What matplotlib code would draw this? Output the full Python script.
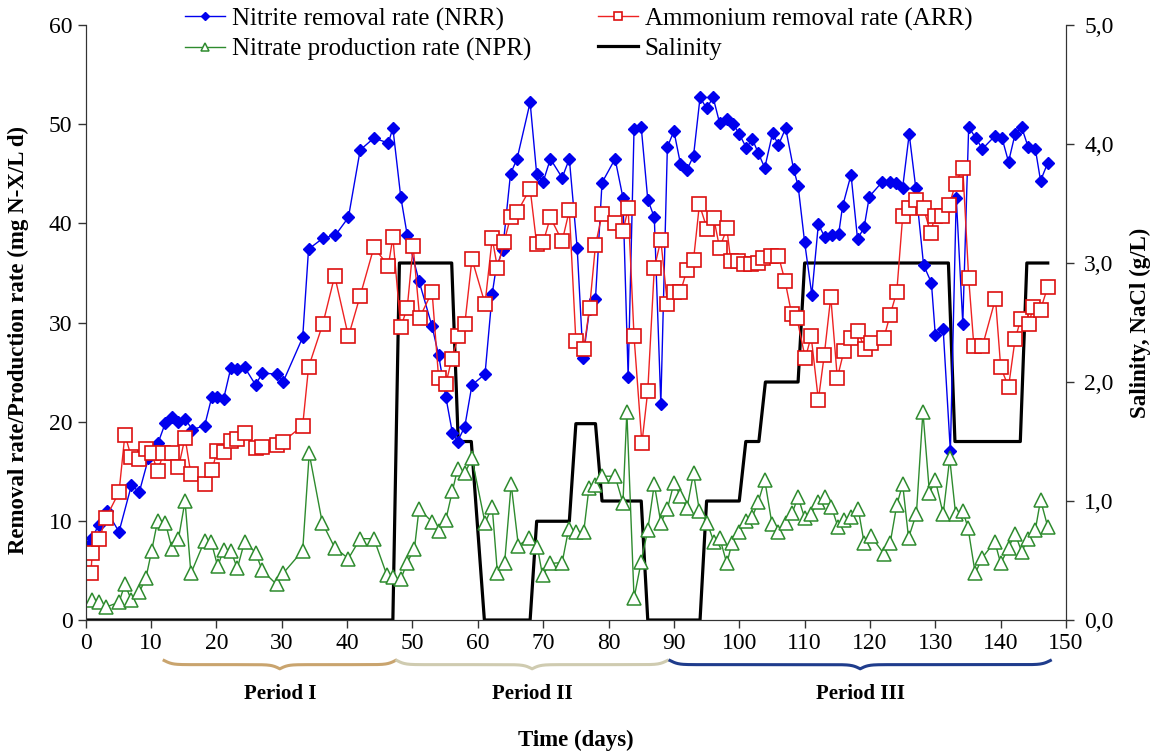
import numpy as np
import matplotlib
matplotlib.use('Agg')
import matplotlib.pyplot as plt
from matplotlib.ticker import FuncFormatter, MultipleLocator
from matplotlib.transforms import blended_transform_factory

plt.rcParams['font.family'] = ['Liberation Serif', 'DejaVu Serif']

# Nitrite removal rate (NRR)
nrr_day = [0.5, 1, 2, 3.2, 5.1, 7, 8.2, 9.6, 11.1, 12.2, 13.2, 14.2, 15.2, 16.3, 18.2, 19.3,
           20.1, 21.1, 22.2, 23.2, 24.3, 26, 27, 29.2, 30.2, 33.2, 34.1, 36.3, 38.2, 40.2,
           42, 44.1, 46.3, 47, 48.2, 49.2, 51, 53, 54, 55.1, 56.1, 56.9, 58, 59.1, 61.1,
           62.2, 62.8, 63.8, 65, 66, 68, 69, 70, 71.1, 72.9, 74, 75.2, 76.1, 77.1, 78, 79,
           81, 82.2, 83, 83.9, 85, 86, 87, 88, 89, 90, 91, 92, 93, 94, 95, 96, 97, 98.1,
           99.1, 100, 101.1, 102, 102.9, 103.9, 105.1, 106, 107.1, 108.3, 109, 110, 111.1,
           112.1, 113.1, 114.2, 115.2, 115.8, 117.1, 118.1, 119.1, 119.9, 121.9, 123, 124,
           125, 126, 127, 128.2, 129.4, 130, 131.2, 132.3, 133.2, 134.2, 135.1, 136.2,
           137.2, 139.1, 140.2, 141.2, 142.2, 143.2, 144.2, 145.3, 146.1, 147.2]
nrr_val = [7.6, 8.3, 9.6, 11.0, 8.9, 13.6, 12.9, 16.3, 17.9, 19.9, 20.5, 20.0, 20.3, 19.2, 19.6, 22.5,
           22.5, 22.3, 25.4, 25.3, 25.5, 23.7, 24.9, 24.8, 24.0, 28.5, 37.4, 38.5, 38.8, 40.6,
           47.4, 48.6, 48.1, 49.6, 42.7, 38.8, 34.2, 29.6, 26.7, 22.5, 18.9, 18.0, 19.5, 23.7, 24.8,
           32.9, 35.5, 37.3, 45.0, 46.5, 52.2, 45.0, 44.2, 46.5, 44.6, 46.5, 37.5, 26.4, 31.4, 32.4, 44.1,
           46.5, 42.6, 24.5, 49.5, 49.7, 42.4, 40.6, 21.8, 47.7, 49.3, 46.0, 45.4, 46.8, 52.7, 51.6, 52.7, 50.1, 50.5,
           50.0, 49.0, 47.6, 48.5, 47.1, 45.6, 49.1, 47.9, 49.6, 45.5, 43.8, 38.1, 32.8,
           39.9, 38.6, 38.8, 38.9, 41.7, 44.9, 38.4, 39.6, 42.7, 44.2, 44.2, 44.1,
           43.6, 49.0, 43.6, 35.8, 34.0, 28.7, 29.3, 17.0, 42.6, 29.9, 49.7, 48.6,
           47.5, 48.8, 48.6, 46.2, 49.0, 49.7, 47.7, 47.5, 44.3, 46.1]

# Ammonium removal rate (ARR)
arr_day = [0.8, 1, 2.1, 3.1, 5.1, 6, 7, 8.1, 9.2, 10.1, 11, 11.9, 13.2, 14.2, 15.2, 16.1, 18.2,
           19.3, 20.1, 21.1, 22.2, 23.2, 24.3, 26, 27, 29.2, 30.2, 33.2, 34.1, 36.3, 38.1, 40.2,
           42, 44.1, 46.3, 47, 48.2, 49.2, 50.1, 51.1, 53, 54, 55.1, 56, 57, 58, 59.1, 61.1,
           62.2, 63, 64, 65, 66, 68, 69, 70, 71.1, 72.9, 74, 75, 76.2, 77.1, 78, 79, 81, 82.2,
           83, 83.9, 85.1, 86, 87, 88, 89, 90, 91, 92, 93, 93.9, 95.1, 96.1, 97, 98.1, 98.7,
           99.8, 100.8, 101.8, 102.8, 103.7, 104.9, 106, 107, 108, 108.8, 110.1, 111, 112.1,
           113, 114, 115, 116, 117.1, 118.2, 119.2, 120.1, 122.1, 123.1, 124.1, 125, 126,
           127.1, 128.2, 129.3, 129.9, 131, 132.1, 133.1, 134.2, 135.1, 135.9, 137.2, 139.2,
           140, 141.2, 142.2, 143.1, 144.3, 145, 146.1, 147.2]
arr_val = [4.7, 6.8, 8.2, 10.3, 12.9, 18.7, 16.4, 16.2, 17.2, 16.8, 15.0, 16.8, 16.8, 15.4, 18.4, 14.7, 13.7,
           15.1, 17.0, 16.9, 18.1, 18.3, 18.9, 17.3, 17.4, 17.6, 18.0, 19.6, 25.5, 29.9, 34.7, 28.6,
           32.7, 37.6, 35.7, 38.6, 29.5, 31.5, 37.7, 30.5, 33.1, 24.4, 23.8, 26.3, 28.6, 29.8, 36.4, 31.9,
           38.5, 35.5, 38.1, 40.6, 41.1, 43.5, 37.9, 38.1, 40.6, 38.2, 41.3, 28.1, 27.3, 31.5, 37.8, 40.9, 40.0, 39.2,
           41.5, 28.6, 17.8, 23.1, 35.5, 38.3, 31.9, 33.1, 33.1, 35.3, 36.3, 41.9, 39.4, 40.5, 37.5, 39.5, 36.2,
           36.2, 35.9, 35.9, 36.0, 36.5, 36.7, 36.7, 34.2, 30.9, 30.5, 26.4, 28.6, 22.2,
           26.7, 32.6, 24.4, 27.1, 28.4, 29.1, 27.3, 27.9, 28.4, 30.8, 33.1, 40.7, 41.5,
           42.4, 41.5, 39.0, 40.7, 40.7, 41.8, 44.0, 45.6, 34.5, 27.6, 27.6, 32.4,
           25.5, 23.5, 28.3, 30.4, 29.9, 31.6, 31.3, 33.6]

# Nitrate production rate (NPR)
npr_day = [0.9, 2.1, 3.1, 5.1, 6, 7, 8.2, 9.2, 10.1, 11, 12.2, 13.2, 14.2, 15.2, 16.1, 18.2, 19.2,
           20.2, 21.1, 22.2, 23.2, 24.3, 26, 27, 29.2, 30.2, 33.2, 34.2, 36.2, 38.1, 40.2, 42,
           44.1, 46.1, 47, 48.2, 49.2, 50.3, 51, 53, 54, 55.1, 56.1, 56.9, 58, 59.1, 61.1, 62.2,
           63, 64.1, 65.1, 66.2, 67.9, 69.1, 69.9, 71.1, 72.9, 73.9, 75, 76.2, 77, 78, 79, 81,
           82.2, 82.8, 83.9, 85, 86, 87, 88, 89, 90, 91, 92, 93, 93.9, 95.1, 96.1, 97, 98.1,
           98.9, 100, 101, 102, 102.9, 103.9, 105, 106, 107.1, 108.1, 109, 110, 111, 112,
           113.1, 114.1, 115.1, 116.1, 117.1, 118.2, 119.1, 120.1, 122.1, 123.1, 124.1, 125,
           125.9, 127.1, 128.1, 129.1, 130, 131.2, 132.2, 133.1, 134.2, 135, 136.1, 137.2,
           139.1, 140, 141.2, 142.2, 143.2, 144.2, 145.3, 146.1, 147.2]
npr_val = [2.0, 1.8, 1.3, 1.8, 3.6, 2.0, 2.8, 4.2, 7.0, 10.0, 9.8, 7.2, 8.2, 12.0, 4.7, 8.0, 7.9,
           5.4, 7.1, 7.0, 5.2, 7.9, 6.8, 5.0, 3.6, 4.7, 7.0, 16.8, 9.8, 7.3, 6.2, 8.2,
           8.2, 4.5, 4.3, 4.1, 5.8, 7.2, 11.2, 9.9, 9.0, 10.1, 13.0, 15.2, 14.8, 16.3, 9.8, 11.4,
           4.7, 5.8, 13.7, 7.5, 8.3, 7.4, 4.5, 5.7, 5.8, 9.2, 8.9, 8.9, 13.3, 13.6, 14.5, 14.5,
           11.8, 21.0, 2.2, 5.9, 9.1, 13.7, 9.8, 11.2, 13.8, 12.5, 11.3, 14.8, 11.0, 9.8, 7.9, 8.3, 5.7,
           7.8, 8.9, 10.0, 10.4, 11.9, 14.1, 9.7, 8.9, 9.8, 10.8, 12.4, 10.3, 10.7, 11.9,
           12.4, 11.4, 9.4, 10.1, 10.4, 11.2, 7.8, 8.5, 6.7, 7.8, 11.6, 13.7,
           8.3, 10.7, 21.0, 12.8, 14.1, 10.7, 16.3, 10.7, 11.0, 9.3, 4.7, 6.3,
           7.9, 5.7, 7.3, 8.7, 6.9, 8.2, 9.1, 12.1, 9.4]

# Salinity, NaCl (g/L)
sal_day = [0, 47, 48, 56, 57, 59, 61, 68, 69, 74, 75, 78, 79, 85, 86, 94, 95, 100, 101,
           103, 104, 109, 110, 132, 133, 143, 144, 147.2]
sal_val = [0, 0, 3.0, 3.0, 1.5, 1.5, 0, 0, 0.83, 0.83, 1.65, 1.65, 1.0, 1.0, 0, 0, 1.0, 1.0, 1.5,
           1.5, 2.0, 2.0, 3.0, 3.0, 1.5, 1.5, 3.0, 3.0]

period_labels = ['Period I', 'Period II', 'Period III']
period_start = [12, 47.6, 89.4]
period_end = [47.4, 89, 147.6]
period_colors = ['#C9A46E', '#CFCBB0', '#1F3C8C']


def draw_brace(ax, x0, x1, color):
    trans = blended_transform_factory(ax.transData, ax.transAxes)
    n = 200
    xm = (x0 + x1) / 2
    half = np.linspace(x0, xm, n)
    beta = 1.6
    yh = 1 / (1 + np.exp(-beta * (half - x0))) + 1 / (1 + np.exp(-beta * (half - xm)))
    xs = np.concatenate([half, (x0 + x1) - half[::-1]])
    ys = np.concatenate([yh, yh[::-1]])
    yy = -0.068 - (ys - 0.5) * 0.014
    ax.plot(xs, yy, transform=trans, clip_on=False, color=color, lw=2.2)


fig = plt.figure(figsize=(11.58, 7.53), dpi=100)
ax = fig.add_axes([0.074, 0.1766, 0.8466, 0.7902])
ax2 = ax.twinx()

l1, = ax.plot(nrr_day, nrr_val, color='#0000EE', lw=1, marker='D', ms=6.5,
              mfc='#0000EE', mec='#0000EE', label='Nitrite removal rate (NRR)')
l2, = ax.plot(arr_day, arr_val, color='#EE2222', lw=1, marker='s', ms=9.5,
              mfc='white', mec='#DD1111', mew=1.2, label='Ammonium removal rate (ARR)')
l3, = ax.plot(npr_day, npr_val, color='#2E8B2E', lw=1, marker='^', ms=9.5,
              mfc='white', mec='#2E8B2E', mew=1.1, label='Nitrate production rate (NPR)')
l4, = ax2.plot(sal_day, sal_val, color='black', lw=2.3, label='Salinity')

ax.set_zorder(ax2.get_zorder() + 1)
ax.patch.set_visible(False)

ax.set_xlim(0, 150)
ax.set_ylim(0, 60)
ax2.set_ylim(0, 5)
ax.xaxis.set_major_locator(MultipleLocator(10))
ax.yaxis.set_major_locator(MultipleLocator(10))
ax2.yaxis.set_major_locator(MultipleLocator(1))
ax2.yaxis.set_major_formatter(FuncFormatter(lambda v, p: f'{v:.1f}'.replace('.', ',')))

for a in (ax, ax2):
    a.spines['top'].set_visible(False)
    for s in a.spines.values():
        s.set_color('#333333')
    a.tick_params(direction='out', length=6, width=1, colors='#333333', labelcolor='black',
                  labelsize=17)
ax2.tick_params(pad=7)

ax.set_xlabel('Time (days)', fontsize=16.5, fontweight='bold')
ax.xaxis.set_label_coords(0.5, -0.185)
ax.set_ylabel('Removal rate/Production rate (mg N-X/L d)', fontsize=16.5, fontweight='bold')
ax.yaxis.set_label_coords(-0.058, 0.47)
ax2.set_ylabel('Salinity, NaCl (g/L)', fontsize=16.5, fontweight='bold', labelpad=12)

trans = blended_transform_factory(ax.transData, ax.transAxes)
for lab, x0, x1, c in zip(period_labels, period_start, period_end, period_colors):
    draw_brace(ax, x0, x1, c)
    ax.text((x0 + x1) / 2, -0.125, lab, transform=trans, ha='center', va='center',
            fontsize=15, fontweight='bold')

fig.legend([l1, l3, l2, l4], [h.get_label() for h in (l1, l3, l2, l4)],
           loc='upper left', bbox_to_anchor=(0.16, 0.99), ncol=2, frameon=False,
           fontsize=18, handlelength=1.6, handletextpad=0.25, columnspacing=2.7,
           labelspacing=0.28, borderpad=0, borderaxespad=0, markerscale=0.6)

fig.savefig('out.png', dpi=100)
